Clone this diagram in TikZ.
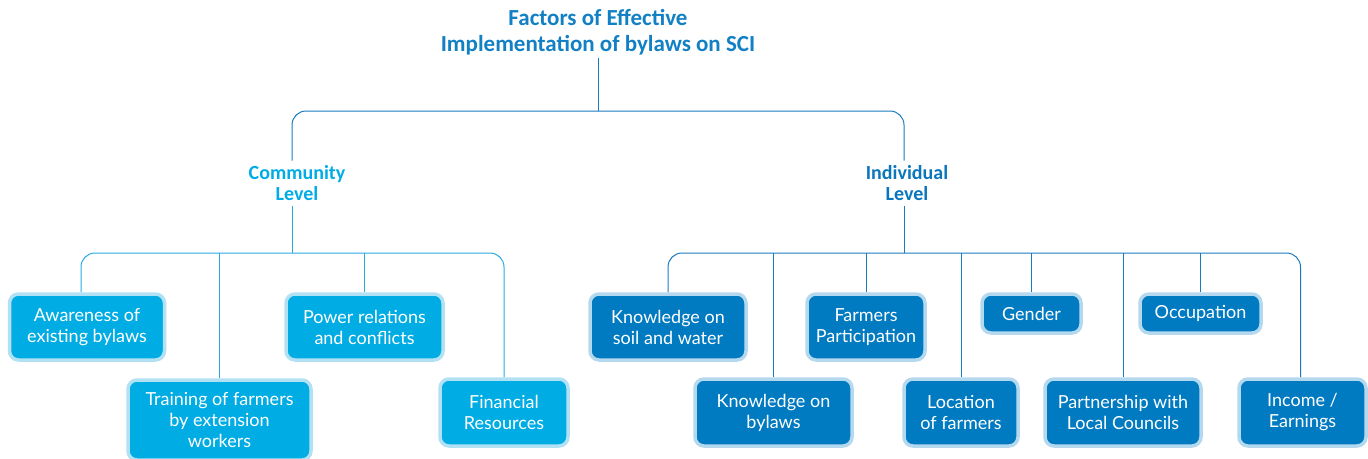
\documentclass[tikz,border=0pt]{standalone}
\usepackage{fontspec}
\setmainfont{Lato}
\newfontfamily\headfont{Carlito}
\usetikzlibrary{positioning,backgrounds}
\definecolor{titleblue}{RGB}{18,128,196}
\definecolor{commtext}{RGB}{0,172,230}
\definecolor{indtext}{RGB}{10,118,188}
\definecolor{cfill}{RGB}{0,172,228}
\definecolor{chalo}{RGB}{178,225,244}
\definecolor{ifill}{RGB}{0,122,193}
\definecolor{ihalo}{RGB}{180,216,238}
\definecolor{clinecol}{RGB}{41,171,226}
\definecolor{ilinecol}{RGB}{26,122,190}

\tikzset{
  head/.style={font=\headfont\bfseries\fontsize{23}{26}\selectfont,align=center,inner sep=3pt},
  level/.style={font=\headfont\bfseries\fontsize{20}{21}\selectfont,align=center,inner sep=5pt},
  cbox/.style={draw=chalo,fill=cfill,line width=3.5pt,rounded corners=9pt,text=white,
    align=center,inner sep=0pt,font=\fontsize{18}{21}\selectfont},
  ibox/.style={cbox,draw=ihalo,fill=ifill},
  cline/.style={draw=clinecol,line width=1pt},
  iline/.style={draw=ilinecol,line width=1pt},
}

\begin{document}
\begin{tikzpicture}[x=1pt,y=-1pt]
\useasboundingbox (0,0) rectangle (1368,458);

\node[head,text=titleblue] (title) at (598,32) {Factors of Effective\\Implementation of bylaws on SCI};
\node[level,text=commtext] (comm) at (297,183.5) {Community\\Level};
\node[level,text=indtext] (indiv) at (907,183.5) {Individual\\Level};

% community level factors
\node[cbox,minimum width=155pt,minimum height=66pt] (aware) at (87,327) {Awareness of\\existing bylaws};
\node[cbox,minimum width=183pt,minimum height=80pt] (training) at (219.5,420) {Training of farmers\\by extension\\workers};
\node[cbox,minimum width=157pt,minimum height=66pt] (power) at (364.5,327) {Power relations\\and conflicts};
\node[cbox,minimum width=128pt,minimum height=67pt] (finance) at (504,412.5) {Financial\\Resources};

% individual level factors
\node[ibox,minimum width=156pt,minimum height=66pt] (ksoil) at (668,327) {Knowledge on\\soil and water};
\node[ibox,minimum width=157pt,minimum height=67pt] (kbylaws) at (773.5,412.5) {Knowledge on\\bylaws};
\node[ibox,minimum width=118pt,minimum height=66pt] (farmers) at (866,327) {Farmers\\Participation};
\node[ibox,minimum width=114pt,minimum height=67pt] (location) at (961,412.5) {Location\\of farmers};
\node[ibox,minimum width=99pt,minimum height=39pt] (gender) at (1031.5,313.5) {Gender};
\node[ibox,minimum width=156pt,minimum height=67pt] (partner) at (1123,412.5) {Partnership with\\Local Councils};
\node[ibox,minimum width=121pt,minimum height=39pt] (occup) at (1200.5,313.5) {Occupation};
\node[ibox,minimum width=127pt,minimum height=67pt] (income) at (1302.5,412.5) {Income /\\Earnings};

\begin{scope}[on background layer]
\coordinate (top) at (598,111);
\coordinate (cjoin) at (292,253);
\coordinate (ijoin) at (904,253);
\draw[iline] (title.south) -- (top);
\draw[iline,rounded corners=14pt] (comm.north -| cjoin) |- (top) -| (indiv.north -| ijoin);

\draw[cline] (comm.south -| cjoin) -- (cjoin);
\draw[cline,rounded corners=14pt] ([xshift=-6pt]aware.north) |- (cjoin) -| (finance.north);
\foreach \b in {training,power}
  \draw[cline] (\b.north) -- (\b.north |- cjoin);

\draw[iline] (indiv.south -| ijoin) -- (ijoin);
\draw[iline,rounded corners=14pt] (ksoil.north) |- (ijoin) -| ([xshift=-2pt]income.north);
\foreach \b in {kbylaws,farmers,location,gender,partner,occup}
  \draw[iline] (\b.north) -- (\b.north |- ijoin);
\end{scope}
\end{tikzpicture}
\end{document}
